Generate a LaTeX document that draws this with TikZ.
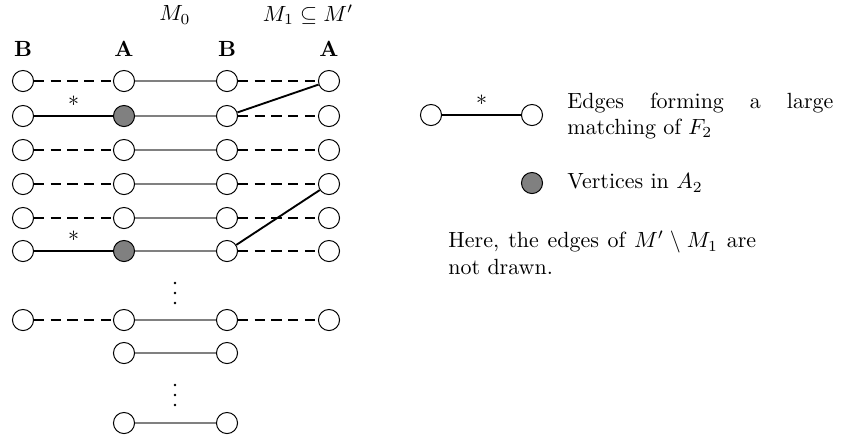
\documentclass[tikz,border=0pt]{standalone}
\usepackage{amsmath}
\usepackage{amssymb}
\usetikzlibrary{positioning}

\begin{document}
\begin{tikzpicture}[
		x=0.455pt, y=-0.455pt,
		vtx/.style={draw, circle, inner sep=0pt, minimum size=9.6pt, line width=0.45pt},
		m0edge/.style={gray, line width=0.65pt},
		dedge/.style={line width=0.85pt, dash pattern=on 4.6pt off 3pt},
		sedge/.style={line width=0.85pt},
		head/.style={inner sep=0pt},
		legend/.style={inner sep=0pt, anchor=west, align=justify, execute at begin node={\hyphenpenalty=10000}}
		]
		\useasboundingbox (0,0) rectangle (841,438);
		
		% Column headings
		\node[head] (hm0) at (175,15) {$M_0$};
		\node[head] (hm1) at (308,15) {$M_1 \subseteq M'$};
		\node[head] (hlb) at (23,49) {\textbf{B}};
		\node[head] (hla) at (124,49) {\textbf{A}};
		\node[head] (hrb) at (227,49) {\textbf{B}};
		\node[head] (hra) at (329,49) {\textbf{A}};
		
		% Full rows of vertices
		\foreach \r/\y/\f in {1/81/white, 2/116/gray, 3/150/white, 4/184/white, 5/218/white, 6/251/gray, 7/320/white} {
			\node[vtx] (lb\r) at (23,\y) {};
			\node[vtx, fill=\f] (la\r) at (124,\y) {};
			\node[vtx] (rb\r) at (227,\y) {};
			\node[vtx] (ra\r) at (329,\y) {};
		}
		% Short rows
		\foreach \r/\y in {8/353, 9/423} {
			\node[vtx] (la\r) at (124,\y) {};
			\node[vtx] (rb\r) at (227,\y) {};
		}
		% Vertical dots
		\foreach \y in {283,293,303,385,395,405}
		\fill (175,\y) circle (0.6pt);
		
		% Edges of M_0
		\foreach \r in {1,...,9}
		\draw[m0edge] (la\r) -- (rb\r);
		
		% Dashed edges
		\foreach \r in {1,3,4,5,7}
		\draw[dedge] (lb\r) -- (la\r);
		\foreach \r in {1,...,7}
		\draw[dedge] (rb\r) -- (ra\r);
		
		% Large matching of F_2 and edges of M_1
		\draw[sedge] (lb2) -- node[above, inner sep=1pt]{*} (la2);
		\draw[sedge] (lb6) -- node[above, inner sep=1pt]{*} (la6);
		\draw[sedge] (rb2) -- (ra1);
		\draw[sedge] (rb6) -- (ra4);
		
		% Legend
		\node[vtx] (lg1) at (431,115) {};
		\node[vtx] (lg2) at (532,115) {};
		\draw[sedge] (lg1) -- node[above, inner sep=1pt]{*} (lg2);
		\node[legend, text width=121pt] (lgtxt1) at (567,116) {Edges forming a large matching of $F_2$};
		\node[vtx, fill=gray] (lg3) at (532,183) {};
		\node[legend] (lgtxt2) at (567,183) {Vertices in $A_2$};
		\node[legend, text width=140pt] (note) at (448,253) {Here, the edges of $M' \setminus M_1$ are not drawn.};
	\end{tikzpicture}
\end{document}
